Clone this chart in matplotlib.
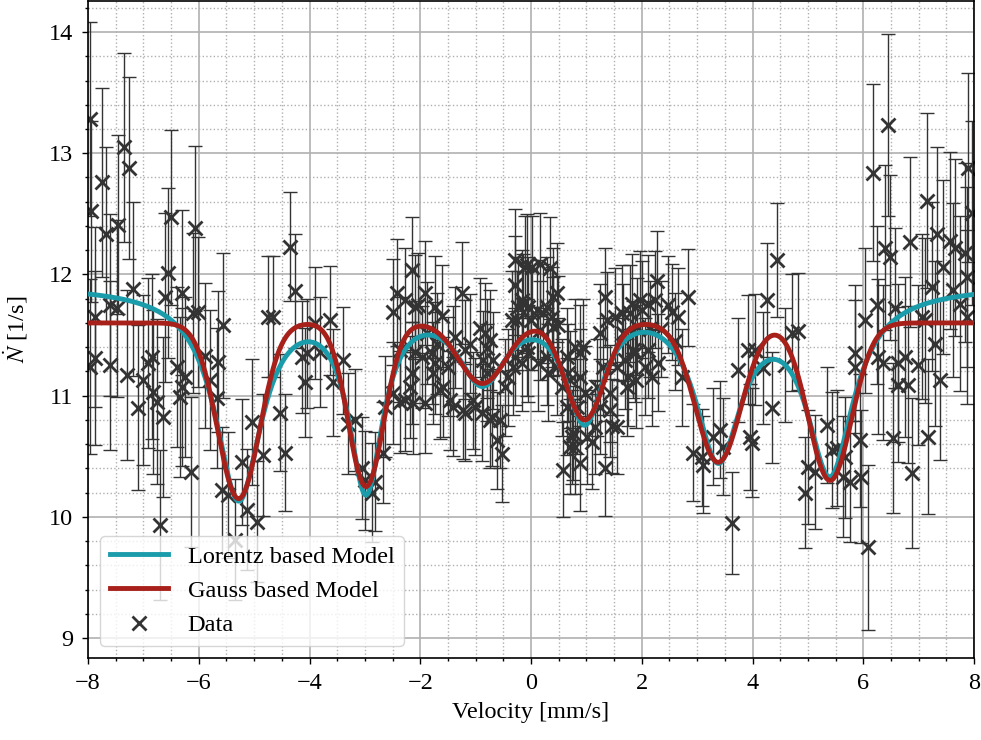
import numpy as np
import matplotlib
matplotlib.use("Agg")
import matplotlib.pyplot as plt
from matplotlib.ticker import MultipleLocator

plt.rcParams["font.family"] = ["Liberation Serif", "DejaVu Serif"]
plt.rcParams["mathtext.fontset"] = "stix"
plt.rcParams["font.size"] = 17.5

velocity = [
    -7.96, -7.95, -7.97, -7.87, -7.87, -7.75, -7.67, -7.60, -7.60, -7.48,
    -7.46, -7.35, -7.30, -7.26, -7.19, -7.10, -7.00, -6.92, -6.85, -6.83,
    -6.75, -6.70, -6.65, -6.61, -6.55, -6.50, -6.39, -6.34, -6.30, -6.30,
    -6.25, -6.14, -6.10, -6.07,
    -6.01, -5.89, -5.80, -5.67, -5.65, -5.58, -5.56, -5.47, -5.35, -5.22,
    -5.13, -5.04, -4.95, -4.84, -4.75, -4.66, -4.53, -4.44, -4.35, -4.26,
    -4.14, -4.08,
    -4.05, -3.90, -3.81, -3.63, -3.58, -3.40, -3.31, -3.18, -3.05, -3.00,
    -2.87, -2.82, -2.67, -2.64, -2.49, -2.49, -2.42, -2.37, -2.37, -2.28,
    -2.28, -2.19, -2.15, -2.13, -2.15, -2.10, -2.10,
    -2.04, -1.97, -1.91, -1.91, -1.88, -1.79, -1.77, -1.73, -1.73, -1.70,
    -1.64, -1.61, -1.59, -1.50, -1.46, -1.41, -1.41, -1.37, -1.25, -1.23,
    -1.19, -1.19, -1.10, -1.05, -1.01, -0.92, -0.88, -0.87, -0.83, -0.80,
    -0.79, -0.74, -0.74, -0.70, -0.69, -0.61, -0.56, -0.52, -0.47, -0.42,
    -0.34, -0.32, -0.29, -0.29, -0.29, -0.25, -0.23, -0.16, -0.16, -0.14,
    -0.11, -0.07, -0.07, -0.05, -0.05, 0.00,
    0.02, 0.10, 0.13, 0.16, 0.16, 0.22, 0.29, 0.29, 0.31, 0.34,
    0.38, 0.40, 0.40, 0.47, 0.47, 0.49, 0.56, 0.58, 0.65, 0.65,
    0.67, 0.70, 0.70, 0.74, 0.76, 0.79, 0.79, 0.83, 0.88, 0.88,
    0.88, 0.94, 0.97, 1.01, 1.10, 1.15, 1.19, 1.25, 1.25, 1.30,
    1.34, 1.34, 1.37, 1.43, 1.43, 1.46, 1.52, 1.55, 1.55, 1.64,
    1.66, 1.70, 1.73, 1.75, 1.79, 1.82, 1.84, 1.88, 1.91, 1.97,
    1.90, 2.00, 2.06, 2.11, 2.11, 2.15, 2.19, 2.24, 2.28, 2.29,
    2.35, 2.47, 2.55, 2.60, 2.65, 2.73, 2.84, 2.93, 3.09, 3.11,
    3.29, 3.41, 3.47, 3.63, 3.74, 3.92, 3.95,
    3.99, 4.04, 4.19, 4.26, 4.35, 4.44, 4.59, 4.71, 4.82, 4.95,
    5.00, 5.13, 5.34, 5.44, 5.53, 5.63, 5.67, 5.76, 5.85, 5.85,
    5.94, 5.95,
    6.03, 6.09, 6.18, 6.25, 6.27, 6.35, 6.39, 6.45, 6.48, 6.54,
    6.57, 6.63, 6.63, 6.75, 6.81, 6.84, 6.88, 6.99, 7.06, 7.11,
    7.15, 7.17, 7.24, 7.29, 7.33, 7.38, 7.44, 7.56, 7.62, 7.65,
    7.75, 7.83, 7.87, 7.87, 7.89, 7.96,
]
rate = [
    13.28, 12.52, 11.24, 11.65, 11.31, 12.76, 12.33, 11.75, 11.25, 11.72,
    12.41, 13.05, 11.17, 12.88, 11.88, 10.90, 11.13, 11.27, 11.32, 11.03,
    10.95, 9.93, 10.82, 11.81, 12.01, 12.47, 11.24, 10.99, 11.85, 11.07,
    11.15, 10.37, 11.68, 12.38,
    11.69, 11.33, 11.13, 10.98, 11.28, 10.22, 11.58, 10.18, 9.81, 10.45,
    10.06, 10.78, 9.96, 10.51, 11.65, 11.65, 10.86, 10.53, 12.23, 11.86,
    11.32, 11.11,
    11.35, 11.60, 11.36, 11.62, 11.11, 11.29, 10.77, 10.80, 10.40, 10.30,
    10.20, 10.29, 10.53, 10.91, 11.02, 11.69, 11.85, 10.95, 11.38, 10.96,
    11.79, 11.07, 12.04, 10.94, 11.19, 11.73, 11.36,
    11.75, 11.32, 11.85, 10.94, 11.52, 11.35, 11.19, 11.73, 11.27, 11.43,
    11.05, 11.66, 11.07, 11.24, 10.96, 10.91, 11.33, 11.48, 11.85, 10.88,
    11.38, 10.86, 11.43, 10.96, 10.91, 11.56, 10.86, 11.29, 11.52, 11.39,
    11.19, 11.46, 10.80, 10.82, 11.29, 10.63, 10.80, 10.52, 11.07, 11.15,
    11.62, 11.24, 12.12, 11.91, 11.32, 11.62, 11.73, 11.79, 11.27, 11.76,
    12.06, 12.08, 11.40, 11.73, 11.35, 11.62,
    12.06, 11.71, 11.27, 12.09, 11.54, 11.68, 11.73, 11.32, 11.19, 12.05,
    11.65, 11.81, 11.57, 11.85, 11.24, 11.58, 11.07, 10.39, 11.32, 10.91,
    11.19, 11.13, 10.58, 10.66, 10.69, 11.40, 10.58, 10.91, 11.35, 11.15,
    10.44, 11.40, 11.02, 10.66, 10.62, 10.74, 11.07, 11.52, 10.91, 11.24,
    11.81, 10.40, 11.62, 11.02, 10.88, 10.75, 11.65, 11.24, 10.74, 11.68,
    11.52, 11.29, 11.07, 11.15, 11.68, 11.76, 11.38, 11.35, 11.57, 11.79,
    11.13, 11.71, 11.24, 11.76, 11.38, 11.55, 11.15, 11.79, 11.95, 11.27,
    11.55, 11.75, 11.69, 11.45, 11.65, 11.15, 11.81, 10.53, 10.49, 10.43,
    10.66, 10.72, 10.58, 9.95, 11.21, 11.38, 10.66,
    10.61, 11.38, 11.23, 11.79, 10.90, 12.12, 11.25, 11.52, 11.53, 10.20,
    10.41, 10.37, 10.76, 10.55, 10.57, 10.33, 10.49, 10.29, 11.24, 11.35,
    10.63, 10.33,
    11.62, 9.75, 12.84, 11.75, 11.32, 11.27, 12.22, 13.23, 12.14, 10.65,
    11.72, 11.27, 11.09, 11.32, 11.09, 12.27, 10.36, 11.25, 11.65, 11.62,
    12.61, 10.66, 11.90, 11.43, 12.33, 11.13, 12.06, 12.28, 11.87, 12.22,
    11.76, 12.18, 11.98, 11.65, 12.88, 12.51,
]
rate_err = [
    0.80, 0.75, 0.72, 0.74, 0.72, 0.78, 0.72, 0.75, 0.70, 0.73,
    0.74, 0.78, 0.70, 0.75, 0.72, 0.68, 0.70, 0.70, 0.68, 0.68,
    0.68, 0.62, 0.66, 0.70, 0.70, 0.72, 0.66, 0.66, 0.68, 0.65,
    0.66, 0.62, 0.66, 0.68,
    0.62, 0.60, 0.58, 0.58, 0.58, 0.52, 0.60, 0.52, 0.50, 0.52,
    0.50, 0.52, 0.50, 0.50, 0.50, 0.50, 0.48, 0.48, 0.45, 0.47,
    0.46, 0.45,
    0.45, 0.46, 0.45, 0.45, 0.44, 0.44, 0.42, 0.42, 0.42, 0.41,
    0.41, 0.41, 0.42, 0.42, 0.42, 0.44, 0.44, 0.42, 0.43, 0.42,
    0.43, 0.42, 0.43, 0.42, 0.42, 0.43, 0.42,
    0.43, 0.42, 0.43, 0.41, 0.42, 0.42, 0.42, 0.42, 0.42, 0.42,
    0.41, 0.42, 0.41, 0.41, 0.41, 0.41, 0.41, 0.42, 0.42, 0.40,
    0.41, 0.40, 0.41, 0.40, 0.40, 0.41, 0.40, 0.41, 0.41, 0.41,
    0.40, 0.41, 0.40, 0.40, 0.40, 0.40, 0.40, 0.40, 0.40, 0.40,
    0.41, 0.40, 0.42, 0.41, 0.40, 0.41, 0.41, 0.41, 0.40, 0.41,
    0.42, 0.42, 0.40, 0.41, 0.40, 0.41,
    0.42, 0.41, 0.40, 0.42, 0.41, 0.41, 0.41, 0.40, 0.40, 0.42,
    0.41, 0.41, 0.41, 0.41, 0.40, 0.41, 0.40, 0.39, 0.40, 0.40,
    0.40, 0.40, 0.39, 0.39, 0.39, 0.40, 0.39, 0.39, 0.40, 0.40,
    0.39, 0.40, 0.39, 0.39, 0.39, 0.39, 0.40, 0.40, 0.39, 0.40,
    0.41, 0.39, 0.40, 0.40, 0.39, 0.39, 0.40, 0.40, 0.39, 0.40,
    0.40, 0.40, 0.40, 0.40, 0.40, 0.41, 0.40, 0.40, 0.40, 0.40,
    0.40, 0.40, 0.40, 0.40, 0.40, 0.40, 0.40, 0.40, 0.41, 0.40,
    0.40, 0.40, 0.40, 0.40, 0.40, 0.40, 0.40, 0.40, 0.40, 0.40,
    0.40, 0.40, 0.40, 0.42, 0.43, 0.45, 0.44,
    0.45, 0.46, 0.46, 0.47, 0.46, 0.47, 0.47, 0.48, 0.48, 0.46,
    0.47, 0.47, 0.48, 0.48, 0.48, 0.50, 0.50, 0.50, 0.55, 0.56,
    0.55, 0.55,
    0.60, 0.68, 0.73, 0.65, 0.64, 0.64, 0.68, 0.75, 0.68, 0.62,
    0.66, 0.65, 0.64, 0.66, 0.65, 0.70, 0.62, 0.66, 0.68, 0.68,
    0.72, 0.64, 0.70, 0.68, 0.72, 0.66, 0.72, 0.73, 0.72, 0.73,
    0.72, 0.74, 0.74, 0.72, 0.78, 0.76,
]

# sextet line positions [mm/s]
line_pos = [-5.28, -2.98, -0.88, 0.97, 3.38, 5.40]

# Gauss based model parameters
gauss_base = 11.60
gauss_depth = [1.45, 1.35, 0.50, 0.80, 1.15, 1.30]
gauss_sigma = [0.38, 0.32, 0.42, 0.35, 0.41, 0.39]

# Lorentz based model parameters
lor_base = 11.919
lor_depth = [1.723, 1.585, 0.687, 0.999, 1.332, 1.484]
lor_hwhm = [0.514, 0.382, 0.565, 0.441, 0.520, 0.516]


def gauss_model(v):
    y = np.full_like(v, gauss_base)
    for c, a, s in zip(line_pos, gauss_depth, gauss_sigma):
        y -= a * np.exp(-(v - c) ** 2 / (2 * s ** 2))
    return y


def lorentz_model(v):
    y = np.full_like(v, lor_base)
    for c, a, g in zip(line_pos, lor_depth, lor_hwhm):
        y -= a / (1 + ((v - c) / g) ** 2)
    return y


vv = np.linspace(-8, 8, 1000)

fig = plt.figure(figsize=(9.81, 7.40), dpi=100)
ax = fig.add_axes([0.0897, 0.1108, 0.9032, 0.8878])

ax.errorbar(velocity, rate, yerr=rate_err, fmt="none", ecolor="#333333",
            elinewidth=1.0, capsize=5, capthick=1.0, zorder=2)
ax.plot(velocity, rate, "x", color="#333333", ms=10, mew=2.0, zorder=2,
        label="Data")
ax.plot(vv, lorentz_model(vv), color="#1a9cab", lw=3.5, zorder=3,
        label="Lorentz based Model")
ax.plot(vv, gauss_model(vv), color="#a8201a", lw=3.5, zorder=4,
        label="Gauss based Model")

ax.set_xlim(-8, 8)
ax.set_ylim(8.835, 14.256)
ax.xaxis.set_major_locator(MultipleLocator(2))
ax.xaxis.set_minor_locator(MultipleLocator(0.5))
ax.yaxis.set_major_locator(MultipleLocator(1))
ax.yaxis.set_minor_locator(MultipleLocator(0.2))
ax.grid(which="major", color="#b0b0b0", lw=1.2)
ax.grid(which="minor", color="#b0b0b0", lw=1.0, ls=":")
ax.set_axisbelow(True)
ax.tick_params(which="major", direction="out", length=4.5, width=1, pad=6)
ax.tick_params(which="minor", direction="out", length=2.5, width=1)
for s in ax.spines.values():
    s.set_linewidth(1.2)

ax.set_xlabel("Velocity [mm/s]", labelpad=6)
ax.set_ylabel(r"$\dot{N}$ [1/s]", labelpad=14)

h, l = ax.get_legend_handles_labels()
ax.legend([h[1], h[2], h[0]], [l[1], l[2], l[0]], loc="lower left",
          handlelength=2.4, framealpha=0.8, edgecolor="#cccccc")

fig.savefig("out.png", dpi=100)
